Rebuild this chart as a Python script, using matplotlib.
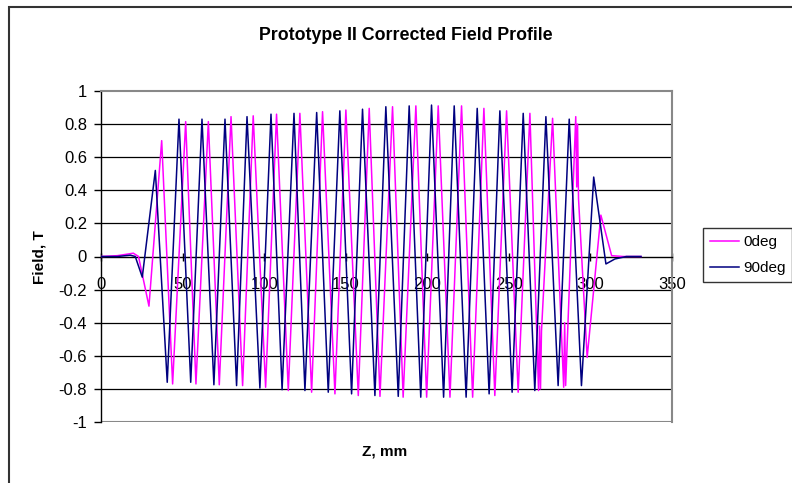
import matplotlib
matplotlib.use('Agg')
import matplotlib.pyplot as plt
from matplotlib.patches import Rectangle
import numpy as np

# Field profile: extrema (mm, T) for each probe orientation
z_90deg = [0, 10, 18, 21, 25.3, 33.3, 40.6, 47.8, 55.0, 61.9, 69.2, 76.0, 83.1, 89.5,
           97.4, 104.2, 111.0, 118.3, 125.0, 132.2, 139.3, 146.4, 153.6, 160.3, 167.9,
           174.6, 182.2, 188.9, 196.0, 202.6, 210.0, 216.5, 223.8, 230.6, 237.9, 244.5,
           252.0, 258.8, 265.9, 272.7, 280.2, 287.0, 294.5, 302.0, 309.5, 315, 322, 331]
b_90deg = [0, 0.0, 0.008, 0.0, -0.125, 0.52, -0.76, 0.83, -0.76, 0.83, -0.775, 0.83,
           -0.78, 0.845, -0.795, 0.86, -0.805, 0.865, -0.81, 0.87, -0.82, 0.88, -0.83,
           0.89, -0.84, 0.905, -0.845, 0.91, -0.85, 0.915, -0.85, 0.91, -0.85, 0.895,
           -0.83, 0.88, -0.82, 0.865, -0.81, 0.845, -0.78, 0.83, -0.78, 0.48, -0.045,
           -0.015, 0.0, 0.0]

z_0deg = [0, 10, 19.8, 23, 29.4, 37.2, 43.9, 51.9, 58.2, 65.8, 72.5, 79.7, 86.8, 93.3,
          100.9, 107.6, 114.8, 121.9, 129.1, 135.8, 143.4, 150.1, 157.7, 164.4, 171.0,
          178.7, 185.2, 193.0, 199.6, 206.7, 213.9, 221.0, 227.8, 234.7, 241.4, 248.6,
          255.7, 262.9, 268.2, 268.8, 269.4, 270.0, 276.8, 283.6, 284.2, 284.8, 291.0,
          291.6, 292.1, 292.7, 298.0, 306.4, 313, 320, 331]
b_0deg = [0, 0.005, 0.02, 0.0, -0.30, 0.70, -0.77, 0.815, -0.77, 0.815, -0.775, 0.845,
          -0.78, 0.85, -0.79, 0.86, -0.81, 0.865, -0.82, 0.875, -0.83, 0.885, -0.84,
          0.895, -0.845, 0.905, -0.85, 0.91, -0.85, 0.91, -0.85, 0.91, -0.85, 0.895,
          -0.84, 0.88, -0.82, 0.865, -0.81, -0.42, -0.80, -0.45, 0.835, -0.79, -0.40,
          -0.78, 0.845, 0.42, 0.80, 0.35, -0.61, 0.25, 0.005, 0.0, 0.0]

x_ticks = [0, 50, 100, 150, 200, 250, 300, 350]
y_ticks = [-1, -0.8, -0.6, -0.4, -0.2, 0, 0.2, 0.4, 0.6, 0.8, 1]

plt.rcParams['font.family'] = ['Liberation Sans', 'DejaVu Sans']

fig = plt.figure(figsize=(7.92, 4.83), dpi=100)
ax = fig.add_axes([101 / 792, 1 - 422 / 483, 571 / 792, 331 / 483])

# cornice esterna del grafico (solo lati sinistro e superiore visibili)
fig.patches.append(Rectangle((9 / 792, -0.1), 1.2, 1 - 7 / 483 + 0.1,
                             transform=fig.transFigure, fill=False,
                             edgecolor='#333333', lw=1.5, clip_on=False))

for y in y_ticks:
    if -1 < y < 1 and y != 0:
        ax.axhline(y, color='black', lw=0.9, zorder=1)
ax.axhline(-1, color='#888888', lw=1.5, zorder=1)

ax.plot(z_0deg, b_0deg, color='#FF00FF', lw=1.1, label='0deg', zorder=3)
ax.plot(z_90deg, b_90deg, color='#000080', lw=1.1, label='90deg', zorder=4)

ax.set_xlim(0, 350)
ax.set_ylim(-1, 1)

ax.spines['bottom'].set_position(('data', 0))
ax.spines['bottom'].set_color('black')
ax.spines['bottom'].set_linewidth(1.0)
ax.spines['left'].set_color('black')
ax.spines['left'].set_linewidth(1.0)
for s in ['top', 'right']:
    ax.spines[s].set_color('#888888')
    ax.spines[s].set_linewidth(1.5)

ax.set_xticks(x_ticks)
ax.set_xticklabels([str(v) for v in x_ticks])
ax.set_yticks(y_ticks)
ax.set_yticklabels(['%g' % v for v in y_ticks])
ax.tick_params(axis='x', direction='inout', length=6, pad=12, labelsize=12, width=1)
ax.tick_params(axis='y', direction='out', length=5, pad=5, labelsize=12, width=1)

fig.text(406 / 792, 1 - 36 / 483, 'Prototype II Corrected Field Profile',
         ha='center', va='center', fontsize=12.8, fontweight='bold')
fig.text(39 / 792, 1 - 257 / 483, 'Field, T', ha='center', va='center',
         rotation=90, fontsize=11, fontweight='bold')
fig.text(385 / 792, 1 - 451 / 483, 'Z, mm', ha='center', va='center',
         fontsize=11, fontweight='bold')

leg = fig.legend(loc='upper left', bbox_to_anchor=(703 / 792, 1 - 228 / 483),
                 frameon=True, fancybox=False, edgecolor='black', fontsize=11,
                 handlelength=1.9, handletextpad=0.26, borderpad=0.45,
                 labelspacing=0.8, borderaxespad=0)
leg.get_frame().set_linewidth(1.0)

plt.savefig('out.png', dpi=100)
